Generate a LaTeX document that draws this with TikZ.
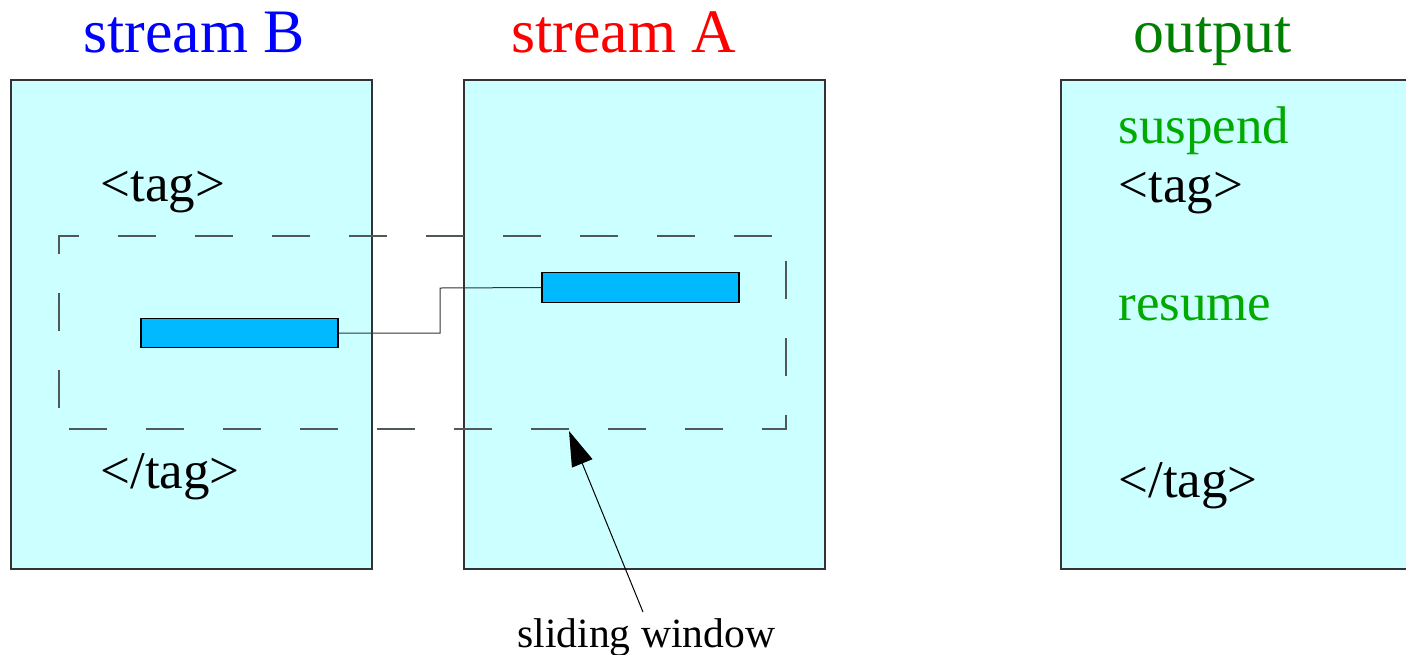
\documentclass[tikz,border=0pt]{standalone}
\usepackage{fontspec}
\setmainfont{Liberation Serif}
\usetikzlibrary{arrows.meta}
\definecolor{boxcyan}{HTML}{CCFFFF}
\definecolor{barblue}{HTML}{00B9FF}
\definecolor{titleblue}{HTML}{0000FF}
\definecolor{titlered}{HTML}{FF0000}
\definecolor{titlegreen}{HTML}{008000}
\definecolor{kwgreen}{HTML}{00AA00}
\definecolor{edgegray}{HTML}{333333}
\definecolor{dashgray}{HTML}{505858}
\tikzset{
  streambox/.style={draw=edgegray, line width=0.6pt, fill=boxcyan, minimum width=180.5pt, minimum height=244.5pt, inner sep=0pt},
  bar/.style={draw=black, line width=0.6pt, fill=barblue, minimum width=98.5pt, minimum height=14.75pt, inner sep=0pt},
  title/.style={anchor=base west, inner sep=0pt, font=\fontsize{30.9}{36}\selectfont},
  tagtext/.style={anchor=base west, inner sep=0pt, font=\fontsize{26.5}{32}\selectfont},
  window/.style={draw=dashgray, line width=0.75pt, dash pattern=on 19pt off 19.5pt, dash phase=28pt},
  link/.style={draw=edgegray, line width=0.5pt},
  pointer/.style={draw=black, line width=0.5pt, -{Triangle[length=17.5pt,width=11pt]}}
}
\begin{document}
\begin{tikzpicture}[x=0.5pt,y=-0.5pt]
\useasboundingbox (0,0) rectangle (1406,654);
\clip (0,0) rectangle (1406,654);
% boxes
\node[streambox] (boxB) at (191.5,324.5) {};
\node[streambox] (boxA) at (644.5,324.5) {};
\node[streambox] (boxOut) at (1241.5,324.5) {};
% titles
\node[title, text=titleblue] (tB) at (83,52) {stream B};
\node[title, text=titlered] (tA) at (511,52) {stream A};
\node[title, text=titlegreen] (tO) at (1133,52) {output};
% stream B tags
\node[tagtext] (openB) at (100,201) {<tag>};
\node[tagtext] (closeB) at (100,488) {</tag>};
% output content
\node[tagtext, text=kwgreen] (susp) at (1118,143) {suspend};
\node[tagtext] (openO) at (1118,202) {<tag>};
\node[tagtext, text=kwgreen] (resm) at (1118,320) {resume};
\node[tagtext] (closeO) at (1118,497) {</tag>};
% sliding window
\draw[window] (59,429) -- (59,236) -- (786,236) -- (786,429) -- cycle;
% bars
\node[bar] (barB) at (239.5,333) {};
\node[bar] (barA) at (640.5,287.5) {};
\coordinate (bend) at (440,288);
\draw[link] (barB.east) -| (bend) -- (barA.west);
% label and pointer
\node[anchor=base west, inner sep=0pt, font=\fontsize{20.8}{25}\selectfont] (lbl) at (517,647) {sliding window};
\coordinate (tail) at (643,612);
\coordinate (tip) at (569,431);
\draw[pointer] (tail) -- (tip);
\end{tikzpicture}
\end{document}
